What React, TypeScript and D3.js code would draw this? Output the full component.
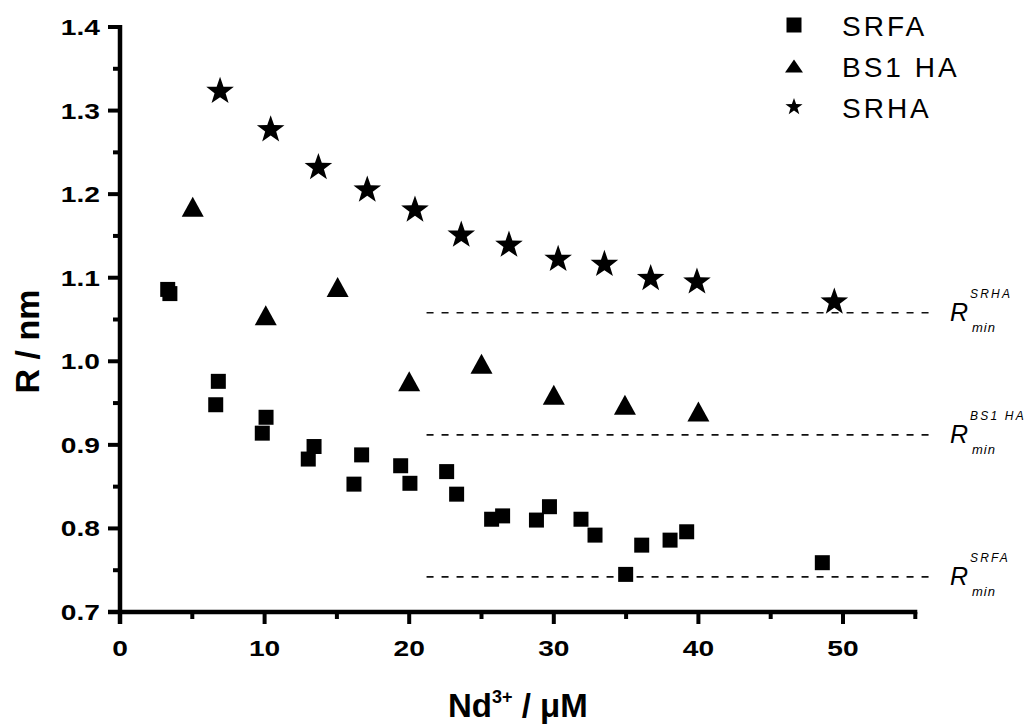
import React from "react";
import * as d3 from "d3";

const srfaX = [3.3, 3.45, 6.8, 6.62, 10.1, 9.84, 13.42, 13.02, 16.71, 16.18, 19.41, 20.05, 22.59, 23.28, 25.7, 26.46, 28.8, 29.7, 31.88, 32.85, 34.97, 36.08, 38.04, 39.19, 48.57];
const srfaY = [1.086, 1.081, 0.976, 0.948, 0.933, 0.914, 0.898, 0.883, 0.888, 0.853, 0.875, 0.854, 0.868, 0.841, 0.811, 0.815, 0.81, 0.826, 0.811, 0.792, 0.745, 0.78, 0.786, 0.796, 0.759];

const bs1X = [5.03, 10.08, 15.05, 20.0, 25.0, 30.0, 34.92, 40.0];
const bs1Y = [1.185, 1.055, 1.089, 0.976, 0.997, 0.96, 0.948, 0.94];

const srhaX = [6.92, 10.42, 13.72, 17.1, 20.4, 23.6, 26.9, 30.3, 33.5, 36.7, 39.9, 49.4];
const srhaY = [1.323, 1.277, 1.232, 1.205, 1.181, 1.151, 1.139, 1.122, 1.116, 1.099, 1.095, 1.071];

const rminNames = ["SRHA", "BS1 HA", "SRFA"];
const rminValues = [1.058, 0.912, 0.742];
const rminXRange = [21.2, 56.4];

const legendNames = ["SRFA", "BS1 HA", "SRHA"];
const xTicks = [0, 10, 20, 30, 40, 50];
const xMinor = [5, 15, 25, 35, 45, 55];
const yTicks = [0.7, 0.8, 0.9, 1.0, 1.1, 1.2, 1.3, 1.4];
const yMinor = [0.75, 0.85, 0.95, 1.05, 1.15, 1.25, 1.35];

const FONT = "'Liberation Sans', Arial, Helvetica, sans-serif";

function squarePath(s: number) {
  const h = s / 2;
  return `M${-h},${-h}H${h}V${h}H${-h}Z`;
}
function trianglePath(w: number, hgt: number) {
  return `M0,${-hgt / 2}L${w / 2},${hgt / 2}L${-w / 2},${hgt / 2}Z`;
}
function starPath(R: number) {
  const r = R * 0.4;
  const pts: string[] = [];
  for (let i = 0; i < 10; i++) {
    const rad = i % 2 === 0 ? R : r;
    const a = -Math.PI / 2 + (i * Math.PI) / 5;
    pts.push(`${(rad * Math.cos(a)).toFixed(2)},${(rad * Math.sin(a)).toFixed(2)}`);
  }
  return "M" + pts.join("L") + "Z";
}

export default function App() {
  const x = d3.scaleLinear().domain([0, 55]).range([120, 915.3]);
  const y = d3.scaleLinear().domain([0.7, 1.4]).range([612, 27]);
  const x0 = x(0);
  const y0 = y(0.7);

  const sq = squarePath(15);
  const tri = trianglePath(22, 20);
  const star = starPath(14.5);

  return (
    <svg width={1031} height={725} style={{ position: "absolute", left: 0, top: 0, background: "#fff" }} fontFamily={FONT}>
      <rect x={0} y={0} width={1031} height={725} fill="#fff" />
      {/* Rmin dashed lines */}
      {rminValues.map((v, i) => (
        <line key={"rl" + i} x1={x(rminXRange[0])} x2={x(rminXRange[1])} y1={y(v)} y2={y(v)} stroke="#111" strokeWidth={1.6} strokeDasharray="7 8" />
      ))}
      {rminValues.map((v, i) => (
        <g key={"rt" + i} transform={`translate(950,${y(v) + 8.5})`} fontStyle="italic" fill="#000">
          <text x={0} y={0} fontSize={25}>R</text>
          <text x={20} y={-23} fontSize={12} letterSpacing={2.2}>{rminNames[i]}</text>
          <text x={22} y={11} fontSize={13} letterSpacing={1}>min</text>
        </g>
      ))}

      {/* axes */}
      <line x1={x0} x2={x0} y1={y(1.4) - 2} y2={y0 + 12} stroke="#000" strokeWidth={4.5} />
      <line x1={x0 - 12} x2={x(55) + 2} y1={y0} y2={y0} stroke="#000" strokeWidth={4.5} />
      {yTicks.map((t) => (
        <g key={"yt" + t}>
          <line x1={x0 - 12} x2={x0} y1={y(t)} y2={y(t)} stroke="#000" strokeWidth={4} />
          <text transform={`translate(100,${y(t) + 8}) scale(1.28,1)`} textAnchor="end" fontSize={22} fontWeight="bold">{t.toFixed(1)}</text>
        </g>
      ))}
      {yMinor.map((t) => (
        <line key={"ym" + t} x1={x0 - 7} x2={x0} y1={y(t)} y2={y(t)} stroke="#000" strokeWidth={4} />
      ))}
      {xTicks.map((t) => (
        <g key={"xt" + t}>
          <line x1={x(t)} x2={x(t)} y1={y0} y2={y0 + 12} stroke="#000" strokeWidth={4} />
          <text transform={`translate(${x(t)},656) scale(1.28,1)`} textAnchor="middle" fontSize={22} fontWeight="bold">{t}</text>
        </g>
      ))}
      {xMinor.map((t) => (
        <line key={"xm" + t} x1={x(t)} x2={x(t)} y1={y0} y2={y0 + 7} stroke="#000" strokeWidth={4} />
      ))}

      {/* axis titles */}
      <text x={448} y={717} fontSize={33} fontWeight="bold">
        Nd<tspan fontSize={18} dy={-14}>3+</tspan><tspan dy={14}> / μM</tspan>
      </text>
      <text transform={`translate(39,341.5) rotate(-90)`} textAnchor="middle" fontSize={34} fontWeight="bold">R / nm</text>

      {/* data */}
      {srfaX.map((v, i) => (
        <path key={"s" + i} d={sq} transform={`translate(${x(v)},${y(srfaY[i])})`} fill="#000" />
      ))}
      {bs1X.map((v, i) => (
        <path key={"b" + i} d={tri} transform={`translate(${x(v)},${y(bs1Y[i])})`} fill="#000" />
      ))}
      {srhaX.map((v, i) => (
        <path key={"h" + i} d={star} transform={`translate(${x(v)},${y(srhaY[i])})`} fill="#000" />
      ))}

      {/* legend */}
      {legendNames.map((n, i) => {
        const cy = 25 + i * 41;
        const d = i === 0 ? squarePath(15) : i === 1 ? trianglePath(18, 13) : starPath(9);
        return (
          <g key={"lg" + i}>
            <path d={d} transform={`translate(794,${cy})`} fill="#000" />
            <text x={842} y={cy + 10.5} fontSize={28} letterSpacing={3}>{n}</text>
          </g>
        );
      })}
    </svg>
  );
}
